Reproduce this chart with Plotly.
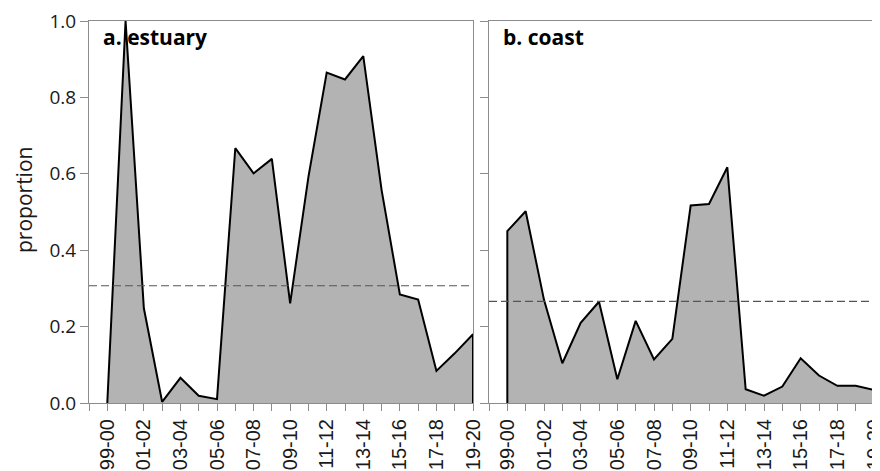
import plotly.graph_objects as go

seasons = ["99-00", "00-01", "01-02", "02-03", "03-04", "04-05", "05-06", "06-07",
           "07-08", "08-09", "09-10", "10-11", "11-12", "12-13", "13-14", "14-15",
           "15-16", "16-17", "17-18", "18-19", "19-20"]
estuary = [0.0, 1.0, 0.248, 0.003, 0.066, 0.019, 0.010, 0.667, 0.601, 0.639, 0.261,
           0.592, 0.865, 0.847, 0.908, 0.558, 0.284, 0.271, 0.084, 0.130, 0.180]
coast = [0.450, 0.502, 0.270, 0.104, 0.210, 0.265, 0.062, 0.215, 0.114, 0.168, 0.517,
         0.521, 0.617, 0.036, 0.019, 0.043, 0.117, 0.072, 0.045, 0.045, 0.034]
estuary_mean = 0.307
coast_mean = 0.266
panel_titles = ["a. estuary", "b. coast"]
y_ticks = [0.0, 0.2, 0.4, 0.6, 0.8, 1.0]

# page body has an 8px default margin: figure is offset by (8, 8) in the window
OFF = 8
W, H = 880 - OFF, 471 - OFF
FRAME = "#8c8c8c"
FILL = "#b3b3b3"
TXT = "#1a1a1a"


def px_x(x):
    return (x - OFF) / W


def px_y(y):
    return 1 - (y - OFF) / H


fig = go.Figure()

idx = list(range(len(seasons)))
for k, (vals, mean) in enumerate([(estuary, estuary_mean), (coast, coast_mean)]):
    xa = "x" if k == 0 else "x2"
    ya = "y" if k == 0 else "y2"
    xs = [idx[0]] + idx + [idx[-1]]
    ys = [0] + vals + [0]
    fig.add_trace(go.Scatter(x=xs, y=ys, mode="lines", fill="toself",
                             fillcolor=FILL, line=dict(color="black", width=2),
                             xaxis=xa, yaxis=ya, showlegend=False,
                             hoverinfo="skip"))
    fig.add_shape(type="line", xref=f"{xa} domain", yref=ya, x0=0, x1=1,
                  y0=mean, y1=mean,
                  line=dict(color="#555555", width=1.2, dash="8px,4px"))

tickvals = list(range(-1, len(seasons)))
ticktext = [""] + [s if i % 2 == 0 else "" for i, s in enumerate(seasons)]

doms_x = [[px_x(89), px_x(473)], [px_x(489), px_x(874)]]
dom_y = [px_y(403), px_y(21)]

xcommon = dict(range=[-1, len(seasons) - 1], tickmode="array", tickvals=tickvals,
               ticktext=ticktext, tickangle=-90, ticks="outside", ticklen=7,
               tickcolor=FRAME, showline=True, linecolor=FRAME, linewidth=1,
               mirror=True, showgrid=False, zeroline=False, layer="below traces",
               automargin=False, ticklabeloverflow="allow",
               tickfont=dict(family="Liberation Sans, Arial", size=20, color=TXT))
ycommon = dict(range=[0, 1], tickmode="array", tickvals=y_ticks,
               ticks="outside", ticklen=8, tickcolor=FRAME, showline=True,
               linecolor=FRAME, linewidth=1, mirror=True, showgrid=False,
               zeroline=False, layer="below traces", automargin=False,
               ticklabeloverflow="allow",
               tickfont=dict(family="Open Sans", size=19, color=TXT))

fig.update_layout(
    width=W, height=H,
    margin=dict(l=0, r=0, t=0, b=0),
    paper_bgcolor="white", plot_bgcolor="white",
    xaxis=dict(domain=doms_x[0], anchor="y", **xcommon),
    xaxis2=dict(domain=doms_x[1], anchor="y2", **xcommon),
    yaxis=dict(domain=dom_y, anchor="x", ticktext=[f"{v:.1f}" for v in y_ticks], **ycommon),
    yaxis2=dict(domain=dom_y, anchor="x2", showticklabels=False, **ycommon),
)

for k, t in enumerate(panel_titles):
    fig.add_annotation(text=f"<b>{t}</b>", xref=f"{'x' if k == 0 else 'x2'} domain",
                       yref="paper", x=0.03, y=px_y(37), xanchor="left",
                       yanchor="middle", showarrow=False,
                       font=dict(family="Open Sans", size=21, color="black"))

fig.add_annotation(text="proportion", xref="paper", yref="paper",
                   x=px_x(OFF), y=px_y(200), textangle=-90, showarrow=False,
                   xanchor="left", yanchor="middle",
                   font=dict(family="Open Sans", size=21, color=TXT))

fig.write_html("out.html")
